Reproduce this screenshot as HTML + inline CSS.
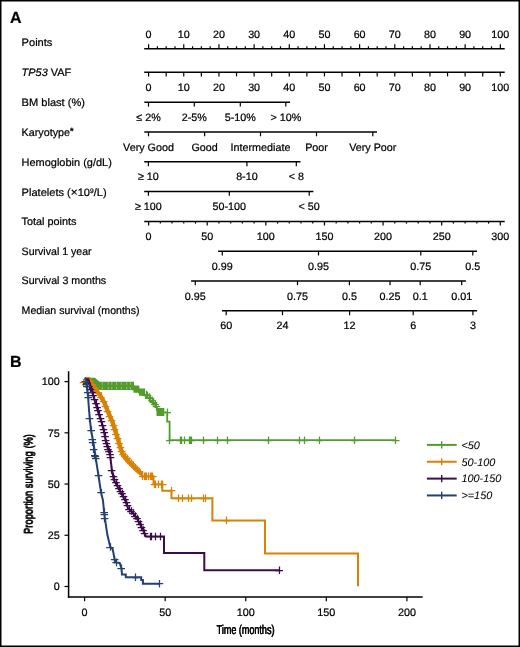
<!DOCTYPE html>
<html><head><meta charset="utf-8"><style>
html,body{margin:0;padding:0;background:#fff;}
svg{display:block;will-change:transform;}
text{font-family:"Liberation Sans",sans-serif;fill:#000;text-rendering:geometricPrecision;stroke:#000;stroke-width:0.22px;}
</style></head><body>
<svg width="520" height="647" viewBox="0 0 520 647">
<rect x="0.75" y="0.75" width="518.5" height="645.5" fill="none" stroke="#000" stroke-width="1.5"/>
<text x="10.00" y="23.40" text-anchor="start" font-size="16" font-weight="bold">A</text>
<text x="10.00" y="366.60" text-anchor="start" font-size="16" font-weight="bold">B</text>
<text x="21.60" y="45.80" text-anchor="start" font-size="10.75" textLength="30.8" lengthAdjust="spacingAndGlyphs">Points</text>
<text x="21.60" y="76.00" text-anchor="start" font-size="10.75" textLength="49.6" lengthAdjust="spacingAndGlyphs"><tspan font-style="italic">TP53</tspan> VAF</text>
<text x="21.60" y="105.90" text-anchor="start" font-size="10.75" textLength="63.4" lengthAdjust="spacingAndGlyphs">BM blast (%)</text>
<text x="21.60" y="136.00" text-anchor="start" font-size="10.75" >Karyotype<tspan font-size="9" font-weight="bold" dy="-1.8">*</tspan></text>
<text x="21.60" y="165.70" text-anchor="start" font-size="10.75" textLength="90.2" lengthAdjust="spacingAndGlyphs">Hemoglobin (g/dL)</text>
<text x="21.60" y="196.30" text-anchor="start" font-size="10.75" textLength="85.0" lengthAdjust="spacingAndGlyphs">Platelets (<tspan font-size="11.5">×</tspan>10<tspan font-size="6.5" dy="-3.8">9</tspan><tspan dy="3.8">/L)</tspan></text>
<text x="21.60" y="225.20" text-anchor="start" font-size="10.75" textLength="54.9" lengthAdjust="spacingAndGlyphs">Total points</text>
<text x="21.60" y="254.70" text-anchor="start" font-size="10.75" textLength="70.0" lengthAdjust="spacingAndGlyphs">Survival 1 year</text>
<text x="21.60" y="284.10" text-anchor="start" font-size="10.75" textLength="84.6" lengthAdjust="spacingAndGlyphs">Survival 3 months</text>
<text x="21.60" y="313.70" text-anchor="start" font-size="10.75" textLength="117.9" lengthAdjust="spacingAndGlyphs">Median survival (months)</text>
<line x1="144.20" y1="48.70" x2="504.70" y2="48.70" stroke="#000" stroke-width="1.5"/>
<line x1="148.60" y1="44.20" x2="148.60" y2="48.70" stroke="#000" stroke-width="1.2"/>
<text x="148.60" y="38.10" text-anchor="middle" font-size="10.75" >0</text>
<line x1="157.39" y1="46.30" x2="157.39" y2="48.70" stroke="#000" stroke-width="1.2"/>
<line x1="166.19" y1="46.30" x2="166.19" y2="48.70" stroke="#000" stroke-width="1.2"/>
<line x1="174.98" y1="46.30" x2="174.98" y2="48.70" stroke="#000" stroke-width="1.2"/>
<line x1="183.77" y1="44.20" x2="183.77" y2="48.70" stroke="#000" stroke-width="1.2"/>
<text x="183.77" y="38.10" text-anchor="middle" font-size="10.75" >10</text>
<line x1="192.56" y1="46.30" x2="192.56" y2="48.70" stroke="#000" stroke-width="1.2"/>
<line x1="201.35" y1="46.30" x2="201.35" y2="48.70" stroke="#000" stroke-width="1.2"/>
<line x1="210.15" y1="46.30" x2="210.15" y2="48.70" stroke="#000" stroke-width="1.2"/>
<line x1="218.94" y1="44.20" x2="218.94" y2="48.70" stroke="#000" stroke-width="1.2"/>
<text x="218.94" y="38.10" text-anchor="middle" font-size="10.75" >20</text>
<line x1="227.73" y1="46.30" x2="227.73" y2="48.70" stroke="#000" stroke-width="1.2"/>
<line x1="236.53" y1="46.30" x2="236.53" y2="48.70" stroke="#000" stroke-width="1.2"/>
<line x1="245.32" y1="46.30" x2="245.32" y2="48.70" stroke="#000" stroke-width="1.2"/>
<line x1="254.11" y1="44.20" x2="254.11" y2="48.70" stroke="#000" stroke-width="1.2"/>
<text x="254.11" y="38.10" text-anchor="middle" font-size="10.75" >30</text>
<line x1="262.90" y1="46.30" x2="262.90" y2="48.70" stroke="#000" stroke-width="1.2"/>
<line x1="271.69" y1="46.30" x2="271.69" y2="48.70" stroke="#000" stroke-width="1.2"/>
<line x1="280.49" y1="46.30" x2="280.49" y2="48.70" stroke="#000" stroke-width="1.2"/>
<line x1="289.28" y1="44.20" x2="289.28" y2="48.70" stroke="#000" stroke-width="1.2"/>
<text x="289.28" y="38.10" text-anchor="middle" font-size="10.75" >40</text>
<line x1="298.07" y1="46.30" x2="298.07" y2="48.70" stroke="#000" stroke-width="1.2"/>
<line x1="306.87" y1="46.30" x2="306.87" y2="48.70" stroke="#000" stroke-width="1.2"/>
<line x1="315.66" y1="46.30" x2="315.66" y2="48.70" stroke="#000" stroke-width="1.2"/>
<line x1="324.45" y1="44.20" x2="324.45" y2="48.70" stroke="#000" stroke-width="1.2"/>
<text x="324.45" y="38.10" text-anchor="middle" font-size="10.75" >50</text>
<line x1="333.24" y1="46.30" x2="333.24" y2="48.70" stroke="#000" stroke-width="1.2"/>
<line x1="342.04" y1="46.30" x2="342.04" y2="48.70" stroke="#000" stroke-width="1.2"/>
<line x1="350.83" y1="46.30" x2="350.83" y2="48.70" stroke="#000" stroke-width="1.2"/>
<line x1="359.62" y1="44.20" x2="359.62" y2="48.70" stroke="#000" stroke-width="1.2"/>
<text x="359.62" y="38.10" text-anchor="middle" font-size="10.75" >60</text>
<line x1="368.41" y1="46.30" x2="368.41" y2="48.70" stroke="#000" stroke-width="1.2"/>
<line x1="377.21" y1="46.30" x2="377.21" y2="48.70" stroke="#000" stroke-width="1.2"/>
<line x1="386.00" y1="46.30" x2="386.00" y2="48.70" stroke="#000" stroke-width="1.2"/>
<line x1="394.79" y1="44.20" x2="394.79" y2="48.70" stroke="#000" stroke-width="1.2"/>
<text x="394.79" y="38.10" text-anchor="middle" font-size="10.75" >70</text>
<line x1="403.58" y1="46.30" x2="403.58" y2="48.70" stroke="#000" stroke-width="1.2"/>
<line x1="412.38" y1="46.30" x2="412.38" y2="48.70" stroke="#000" stroke-width="1.2"/>
<line x1="421.17" y1="46.30" x2="421.17" y2="48.70" stroke="#000" stroke-width="1.2"/>
<line x1="429.96" y1="44.20" x2="429.96" y2="48.70" stroke="#000" stroke-width="1.2"/>
<text x="429.96" y="38.10" text-anchor="middle" font-size="10.75" >80</text>
<line x1="438.75" y1="46.30" x2="438.75" y2="48.70" stroke="#000" stroke-width="1.2"/>
<line x1="447.55" y1="46.30" x2="447.55" y2="48.70" stroke="#000" stroke-width="1.2"/>
<line x1="456.34" y1="46.30" x2="456.34" y2="48.70" stroke="#000" stroke-width="1.2"/>
<line x1="465.13" y1="44.20" x2="465.13" y2="48.70" stroke="#000" stroke-width="1.2"/>
<text x="465.13" y="38.10" text-anchor="middle" font-size="10.75" >90</text>
<line x1="473.92" y1="46.30" x2="473.92" y2="48.70" stroke="#000" stroke-width="1.2"/>
<line x1="482.72" y1="46.30" x2="482.72" y2="48.70" stroke="#000" stroke-width="1.2"/>
<line x1="491.51" y1="46.30" x2="491.51" y2="48.70" stroke="#000" stroke-width="1.2"/>
<line x1="500.30" y1="44.20" x2="500.30" y2="48.70" stroke="#000" stroke-width="1.2"/>
<text x="500.30" y="38.10" text-anchor="middle" font-size="10.75" >100</text>
<line x1="144.20" y1="72.30" x2="504.70" y2="72.30" stroke="#000" stroke-width="1.5"/>
<line x1="148.60" y1="72.30" x2="148.60" y2="76.40" stroke="#000" stroke-width="1.2"/>
<text x="148.60" y="90.60" text-anchor="middle" font-size="10.75" >0</text>
<line x1="166.19" y1="72.30" x2="166.19" y2="76.40" stroke="#000" stroke-width="1.2"/>
<line x1="183.77" y1="72.30" x2="183.77" y2="76.40" stroke="#000" stroke-width="1.2"/>
<text x="183.77" y="90.60" text-anchor="middle" font-size="10.75" >10</text>
<line x1="201.35" y1="72.30" x2="201.35" y2="76.40" stroke="#000" stroke-width="1.2"/>
<line x1="218.94" y1="72.30" x2="218.94" y2="76.40" stroke="#000" stroke-width="1.2"/>
<text x="218.94" y="90.60" text-anchor="middle" font-size="10.75" >20</text>
<line x1="236.53" y1="72.30" x2="236.53" y2="76.40" stroke="#000" stroke-width="1.2"/>
<line x1="254.11" y1="72.30" x2="254.11" y2="76.40" stroke="#000" stroke-width="1.2"/>
<text x="254.11" y="90.60" text-anchor="middle" font-size="10.75" >30</text>
<line x1="271.69" y1="72.30" x2="271.69" y2="76.40" stroke="#000" stroke-width="1.2"/>
<line x1="289.28" y1="72.30" x2="289.28" y2="76.40" stroke="#000" stroke-width="1.2"/>
<text x="289.28" y="90.60" text-anchor="middle" font-size="10.75" >40</text>
<line x1="306.87" y1="72.30" x2="306.87" y2="76.40" stroke="#000" stroke-width="1.2"/>
<line x1="324.45" y1="72.30" x2="324.45" y2="76.40" stroke="#000" stroke-width="1.2"/>
<text x="324.45" y="90.60" text-anchor="middle" font-size="10.75" >50</text>
<line x1="342.04" y1="72.30" x2="342.04" y2="76.40" stroke="#000" stroke-width="1.2"/>
<line x1="359.62" y1="72.30" x2="359.62" y2="76.40" stroke="#000" stroke-width="1.2"/>
<text x="359.62" y="90.60" text-anchor="middle" font-size="10.75" >60</text>
<line x1="377.21" y1="72.30" x2="377.21" y2="76.40" stroke="#000" stroke-width="1.2"/>
<line x1="394.79" y1="72.30" x2="394.79" y2="76.40" stroke="#000" stroke-width="1.2"/>
<text x="394.79" y="90.60" text-anchor="middle" font-size="10.75" >70</text>
<line x1="412.38" y1="72.30" x2="412.38" y2="76.40" stroke="#000" stroke-width="1.2"/>
<line x1="429.96" y1="72.30" x2="429.96" y2="76.40" stroke="#000" stroke-width="1.2"/>
<text x="429.96" y="90.60" text-anchor="middle" font-size="10.75" >80</text>
<line x1="447.55" y1="72.30" x2="447.55" y2="76.40" stroke="#000" stroke-width="1.2"/>
<line x1="465.13" y1="72.30" x2="465.13" y2="76.40" stroke="#000" stroke-width="1.2"/>
<text x="465.13" y="90.60" text-anchor="middle" font-size="10.75" >90</text>
<line x1="482.72" y1="72.30" x2="482.72" y2="76.40" stroke="#000" stroke-width="1.2"/>
<line x1="500.30" y1="72.30" x2="500.30" y2="76.40" stroke="#000" stroke-width="1.2"/>
<text x="500.30" y="90.60" text-anchor="middle" font-size="10.75" >100</text>
<line x1="144.30" y1="102.30" x2="290.00" y2="102.30" stroke="#000" stroke-width="1.5"/>
<line x1="148.50" y1="102.30" x2="148.50" y2="106.60" stroke="#000" stroke-width="1.2"/>
<text x="148.50" y="120.90" text-anchor="middle" font-size="10.75" >≤ 2%</text>
<line x1="194.30" y1="102.30" x2="194.30" y2="106.60" stroke="#000" stroke-width="1.2"/>
<text x="194.30" y="120.90" text-anchor="middle" font-size="10.75" >2-5%</text>
<line x1="240.30" y1="102.30" x2="240.30" y2="106.60" stroke="#000" stroke-width="1.2"/>
<text x="240.30" y="120.90" text-anchor="middle" font-size="10.75" >5-10%</text>
<line x1="285.80" y1="102.30" x2="285.80" y2="106.60" stroke="#000" stroke-width="1.2"/>
<text x="285.80" y="120.90" text-anchor="middle" font-size="10.75" >&gt; 10%</text>
<line x1="144.30" y1="132.00" x2="377.00" y2="132.00" stroke="#000" stroke-width="1.5"/>
<line x1="148.50" y1="132.00" x2="148.50" y2="136.30" stroke="#000" stroke-width="1.2"/>
<text x="148.50" y="150.60" text-anchor="middle" font-size="10.75" >Very Good</text>
<line x1="204.60" y1="132.00" x2="204.60" y2="136.30" stroke="#000" stroke-width="1.2"/>
<text x="204.60" y="150.60" text-anchor="middle" font-size="10.75" >Good</text>
<line x1="260.50" y1="132.00" x2="260.50" y2="136.30" stroke="#000" stroke-width="1.2"/>
<text x="260.50" y="150.60" text-anchor="middle" font-size="10.75" >Intermediate</text>
<line x1="316.50" y1="132.00" x2="316.50" y2="136.30" stroke="#000" stroke-width="1.2"/>
<text x="316.50" y="150.60" text-anchor="middle" font-size="10.75" >Poor</text>
<line x1="372.80" y1="132.00" x2="372.80" y2="136.30" stroke="#000" stroke-width="1.2"/>
<text x="372.80" y="150.60" text-anchor="middle" font-size="10.75" >Very Poor</text>
<line x1="144.20" y1="161.85" x2="300.50" y2="161.85" stroke="#000" stroke-width="1.5"/>
<line x1="148.40" y1="161.85" x2="148.40" y2="166.15" stroke="#000" stroke-width="1.2"/>
<text x="148.40" y="180.45" text-anchor="middle" font-size="10.75" >≥ 10</text>
<line x1="246.90" y1="161.85" x2="246.90" y2="166.15" stroke="#000" stroke-width="1.2"/>
<text x="246.90" y="180.45" text-anchor="middle" font-size="10.75" >8-10</text>
<line x1="296.30" y1="161.85" x2="296.30" y2="166.15" stroke="#000" stroke-width="1.2"/>
<text x="296.30" y="180.45" text-anchor="middle" font-size="10.75" >&lt; 8</text>
<line x1="144.20" y1="191.50" x2="313.40" y2="191.50" stroke="#000" stroke-width="1.5"/>
<line x1="148.40" y1="191.50" x2="148.40" y2="195.80" stroke="#000" stroke-width="1.2"/>
<text x="148.40" y="210.10" text-anchor="middle" font-size="10.75" >≥ 100</text>
<line x1="229.30" y1="191.50" x2="229.30" y2="195.80" stroke="#000" stroke-width="1.2"/>
<text x="229.30" y="210.10" text-anchor="middle" font-size="10.75" >50-100</text>
<line x1="309.20" y1="191.50" x2="309.20" y2="195.80" stroke="#000" stroke-width="1.2"/>
<text x="309.20" y="210.10" text-anchor="middle" font-size="10.75" >&lt; 50</text>
<line x1="144.20" y1="221.40" x2="504.70" y2="221.40" stroke="#000" stroke-width="1.5"/>
<line x1="148.60" y1="221.40" x2="148.60" y2="225.50" stroke="#000" stroke-width="1.2"/>
<text x="148.60" y="239.80" text-anchor="middle" font-size="10.75" >0</text>
<line x1="160.32" y1="221.40" x2="160.32" y2="223.60" stroke="#000" stroke-width="1.2"/>
<line x1="172.05" y1="221.40" x2="172.05" y2="223.60" stroke="#000" stroke-width="1.2"/>
<line x1="183.77" y1="221.40" x2="183.77" y2="223.60" stroke="#000" stroke-width="1.2"/>
<line x1="195.49" y1="221.40" x2="195.49" y2="223.60" stroke="#000" stroke-width="1.2"/>
<line x1="207.22" y1="221.40" x2="207.22" y2="225.50" stroke="#000" stroke-width="1.2"/>
<text x="207.22" y="239.80" text-anchor="middle" font-size="10.75" >50</text>
<line x1="218.94" y1="221.40" x2="218.94" y2="223.60" stroke="#000" stroke-width="1.2"/>
<line x1="230.66" y1="221.40" x2="230.66" y2="223.60" stroke="#000" stroke-width="1.2"/>
<line x1="242.39" y1="221.40" x2="242.39" y2="223.60" stroke="#000" stroke-width="1.2"/>
<line x1="254.11" y1="221.40" x2="254.11" y2="223.60" stroke="#000" stroke-width="1.2"/>
<line x1="265.83" y1="221.40" x2="265.83" y2="225.50" stroke="#000" stroke-width="1.2"/>
<text x="265.83" y="239.80" text-anchor="middle" font-size="10.75" >100</text>
<line x1="277.56" y1="221.40" x2="277.56" y2="223.60" stroke="#000" stroke-width="1.2"/>
<line x1="289.28" y1="221.40" x2="289.28" y2="223.60" stroke="#000" stroke-width="1.2"/>
<line x1="301.00" y1="221.40" x2="301.00" y2="223.60" stroke="#000" stroke-width="1.2"/>
<line x1="312.73" y1="221.40" x2="312.73" y2="223.60" stroke="#000" stroke-width="1.2"/>
<line x1="324.45" y1="221.40" x2="324.45" y2="225.50" stroke="#000" stroke-width="1.2"/>
<text x="324.45" y="239.80" text-anchor="middle" font-size="10.75" >150</text>
<line x1="336.17" y1="221.40" x2="336.17" y2="223.60" stroke="#000" stroke-width="1.2"/>
<line x1="347.90" y1="221.40" x2="347.90" y2="223.60" stroke="#000" stroke-width="1.2"/>
<line x1="359.62" y1="221.40" x2="359.62" y2="223.60" stroke="#000" stroke-width="1.2"/>
<line x1="371.34" y1="221.40" x2="371.34" y2="223.60" stroke="#000" stroke-width="1.2"/>
<line x1="383.07" y1="221.40" x2="383.07" y2="225.50" stroke="#000" stroke-width="1.2"/>
<text x="383.07" y="239.80" text-anchor="middle" font-size="10.75" >200</text>
<line x1="394.79" y1="221.40" x2="394.79" y2="223.60" stroke="#000" stroke-width="1.2"/>
<line x1="406.51" y1="221.40" x2="406.51" y2="223.60" stroke="#000" stroke-width="1.2"/>
<line x1="418.24" y1="221.40" x2="418.24" y2="223.60" stroke="#000" stroke-width="1.2"/>
<line x1="429.96" y1="221.40" x2="429.96" y2="223.60" stroke="#000" stroke-width="1.2"/>
<line x1="441.68" y1="221.40" x2="441.68" y2="225.50" stroke="#000" stroke-width="1.2"/>
<text x="441.68" y="239.80" text-anchor="middle" font-size="10.75" >250</text>
<line x1="453.41" y1="221.40" x2="453.41" y2="223.60" stroke="#000" stroke-width="1.2"/>
<line x1="465.13" y1="221.40" x2="465.13" y2="223.60" stroke="#000" stroke-width="1.2"/>
<line x1="476.85" y1="221.40" x2="476.85" y2="223.60" stroke="#000" stroke-width="1.2"/>
<line x1="488.58" y1="221.40" x2="488.58" y2="223.60" stroke="#000" stroke-width="1.2"/>
<line x1="500.30" y1="221.40" x2="500.30" y2="225.50" stroke="#000" stroke-width="1.2"/>
<text x="500.30" y="239.80" text-anchor="middle" font-size="10.75" >300</text>
<line x1="218.10" y1="251.15" x2="477.00" y2="251.15" stroke="#000" stroke-width="1.5"/>
<line x1="222.30" y1="251.15" x2="222.30" y2="255.45" stroke="#000" stroke-width="1.2"/>
<text x="222.30" y="269.75" text-anchor="middle" font-size="10.75" >0.99</text>
<line x1="318.50" y1="251.15" x2="318.50" y2="255.45" stroke="#000" stroke-width="1.2"/>
<text x="318.50" y="269.75" text-anchor="middle" font-size="10.75" >0.95</text>
<line x1="420.80" y1="251.15" x2="420.80" y2="255.45" stroke="#000" stroke-width="1.2"/>
<text x="420.80" y="269.75" text-anchor="middle" font-size="10.75" >0.75</text>
<line x1="472.80" y1="251.15" x2="472.80" y2="255.45" stroke="#000" stroke-width="1.2"/>
<text x="472.80" y="269.75" text-anchor="middle" font-size="10.75" >0.5</text>
<line x1="191.10" y1="280.90" x2="465.90" y2="280.90" stroke="#000" stroke-width="1.5"/>
<line x1="195.30" y1="280.90" x2="195.30" y2="285.20" stroke="#000" stroke-width="1.2"/>
<text x="195.30" y="299.50" text-anchor="middle" font-size="10.75" >0.95</text>
<line x1="297.50" y1="280.90" x2="297.50" y2="285.20" stroke="#000" stroke-width="1.2"/>
<text x="297.50" y="299.50" text-anchor="middle" font-size="10.75" >0.75</text>
<line x1="349.40" y1="280.90" x2="349.40" y2="285.20" stroke="#000" stroke-width="1.2"/>
<text x="349.40" y="299.50" text-anchor="middle" font-size="10.75" >0.5</text>
<line x1="390.00" y1="280.90" x2="390.00" y2="285.20" stroke="#000" stroke-width="1.2"/>
<text x="390.00" y="299.50" text-anchor="middle" font-size="10.75" >0.25</text>
<line x1="420.20" y1="280.90" x2="420.20" y2="285.20" stroke="#000" stroke-width="1.2"/>
<text x="420.20" y="299.50" text-anchor="middle" font-size="10.75" >0.1</text>
<line x1="461.70" y1="280.90" x2="461.70" y2="285.20" stroke="#000" stroke-width="1.2"/>
<text x="461.70" y="299.50" text-anchor="middle" font-size="10.75" >0.01</text>
<line x1="222.00" y1="310.85" x2="477.10" y2="310.85" stroke="#000" stroke-width="1.5"/>
<line x1="226.20" y1="310.85" x2="226.20" y2="315.15" stroke="#000" stroke-width="1.2"/>
<text x="226.20" y="329.45" text-anchor="middle" font-size="10.75" >60</text>
<line x1="282.50" y1="310.85" x2="282.50" y2="315.15" stroke="#000" stroke-width="1.2"/>
<text x="282.50" y="329.45" text-anchor="middle" font-size="10.75" >24</text>
<line x1="349.60" y1="310.85" x2="349.60" y2="315.15" stroke="#000" stroke-width="1.2"/>
<text x="349.60" y="329.45" text-anchor="middle" font-size="10.75" >12</text>
<line x1="413.20" y1="310.85" x2="413.20" y2="315.15" stroke="#000" stroke-width="1.2"/>
<text x="413.20" y="329.45" text-anchor="middle" font-size="10.75" >6</text>
<line x1="472.90" y1="310.85" x2="472.90" y2="315.15" stroke="#000" stroke-width="1.2"/>
<text x="472.90" y="329.45" text-anchor="middle" font-size="10.75" >3</text>
<line x1="68.60" y1="371.20" x2="68.60" y2="597.60" stroke="#000" stroke-width="1.5"/>
<line x1="67.85" y1="596.90" x2="422.70" y2="596.90" stroke="#000" stroke-width="1.5"/>
<line x1="64.50" y1="586.50" x2="68.60" y2="586.50" stroke="#000" stroke-width="1.2"/>
<text x="59.80" y="590.30" text-anchor="end" font-size="10.8" >0</text>
<line x1="64.50" y1="535.27" x2="68.60" y2="535.27" stroke="#000" stroke-width="1.2"/>
<text x="59.80" y="539.07" text-anchor="end" font-size="10.8" >25</text>
<line x1="64.50" y1="484.05" x2="68.60" y2="484.05" stroke="#000" stroke-width="1.2"/>
<text x="59.80" y="487.85" text-anchor="end" font-size="10.8" >50</text>
<line x1="64.50" y1="432.83" x2="68.60" y2="432.83" stroke="#000" stroke-width="1.2"/>
<text x="59.80" y="436.63" text-anchor="end" font-size="10.8" >75</text>
<line x1="64.50" y1="381.60" x2="68.60" y2="381.60" stroke="#000" stroke-width="1.2"/>
<text x="59.80" y="385.40" text-anchor="end" font-size="10.8" >100</text>
<line x1="84.60" y1="596.90" x2="84.60" y2="601.30" stroke="#000" stroke-width="1.2"/>
<text x="84.60" y="615.70" text-anchor="middle" font-size="10.8" >0</text>
<line x1="165.17" y1="596.90" x2="165.17" y2="601.30" stroke="#000" stroke-width="1.2"/>
<text x="165.17" y="615.70" text-anchor="middle" font-size="10.8" >50</text>
<line x1="245.75" y1="596.90" x2="245.75" y2="601.30" stroke="#000" stroke-width="1.2"/>
<text x="245.75" y="615.70" text-anchor="middle" font-size="10.8" >100</text>
<line x1="326.32" y1="596.90" x2="326.32" y2="601.30" stroke="#000" stroke-width="1.2"/>
<text x="326.32" y="615.70" text-anchor="middle" font-size="10.8" >150</text>
<line x1="406.90" y1="596.90" x2="406.90" y2="601.30" stroke="#000" stroke-width="1.2"/>
<text x="406.90" y="615.70" text-anchor="middle" font-size="10.8" >200</text>
<text x="-0.2" y="0" font-size="12.8" text-anchor="middle" transform="translate(245.6,633.8) scale(0.705,1)">Time (months)</text>
<text x="0.2" y="0" font-size="12.8" text-anchor="middle" transform="translate(245.6,633.8) scale(0.705,1)">Time (months)</text>
<text x="0" y="-0.2" font-size="12" text-anchor="middle" transform="translate(32.4,484) rotate(-90) scale(0.78,1)">Proportion surviving (%)</text>
<text x="0" y="0.2" font-size="12" text-anchor="middle" transform="translate(32.4,484) rotate(-90) scale(0.78,1)">Proportion surviving (%)</text>
<line x1="426.90" y1="444.90" x2="456.70" y2="444.90" stroke="#529c2e" stroke-width="2.0"/>
<line x1="441.70" y1="441.30" x2="441.70" y2="448.50" stroke="#529c2e" stroke-width="1.4"/>
<text x="461.40" y="448.70" text-anchor="start" font-size="10.9" font-style="italic" style="stroke-width:0.05px">&lt;50</text>
<line x1="426.90" y1="461.75" x2="456.70" y2="461.75" stroke="#d88205" stroke-width="2.0"/>
<line x1="441.70" y1="458.15" x2="441.70" y2="465.35" stroke="#d88205" stroke-width="1.4"/>
<text x="461.40" y="465.55" text-anchor="start" font-size="10.9" font-style="italic" style="stroke-width:0.05px">50-100</text>
<line x1="426.90" y1="478.60" x2="456.70" y2="478.60" stroke="#3c0b4b" stroke-width="2.0"/>
<line x1="441.70" y1="475.00" x2="441.70" y2="482.20" stroke="#3c0b4b" stroke-width="1.4"/>
<text x="461.40" y="482.40" text-anchor="start" font-size="10.9" font-style="italic" style="stroke-width:0.05px">100-150</text>
<line x1="426.90" y1="495.45" x2="456.70" y2="495.45" stroke="#234070" stroke-width="2.0"/>
<line x1="441.70" y1="491.85" x2="441.70" y2="499.05" stroke="#234070" stroke-width="1.4"/>
<text x="461.40" y="499.25" text-anchor="start" font-size="10.9" font-style="italic" style="stroke-width:0.05px">&gt;=150</text>
<polygon points="87.5,377.8 95,377.8 99.5,381.8 134,381.8 134,385.6 139.3,385.6 139.3,388.6 145.2,388.6 145.2,395.8 139,395.8 139,392.8 133.5,392.8 133.5,389.9 98.5,389.9 94,384.5 88,381" fill="#529c2e"/>
<path d="M102.3,382.2V384.8M102.3,386.6V389.4M108.3,382.2V384.8M108.3,386.6V389.4M111.8,382.2V384.8M111.8,386.6V389.4M116.5,382.2V384.8M116.5,386.6V389.4M121.4,382.2V384.8M121.4,386.6V389.4M126.8,382.2V384.8M126.8,386.6V389.4M130.5,382.2V384.8M130.5,386.6V389.4" stroke="#fff" stroke-opacity="0.45" stroke-width="0.8" fill="none"/>
<path d="M84.6,379.2 L93.5,379.2 L99.0,386.0 L133.5,386.0 L133.5,389.5 L139.0,389.5 L139.0,392.5 L143.0,392.5 L143.0,395.0 L146.0,395.0 L146.0,398.0 L150.0,398.0 L150.0,401.0 L153.0,401.0 L153.0,404.0 L155.5,404.0 L155.5,407.0 L157.0,407.0 L157.0,410.0 L160.0,410.0 L160.0,412.3 L167.2,412.3 L167.2,421.6 L169.6,421.6 L169.6,440.2 L395.8,440.2" fill="none" stroke="#529c2e" stroke-width="1.8" stroke-linejoin="miter"/>
<rect x="156.5" y="408" width="7.80" height="8.00" fill="#529c2e"/>
<path d="M142.2,394.5h7.6M146.5,390.7v7.6M143.7,395.5h7.6M147.5,391.7v7.6M145.2,397.5h7.6M149.5,393.2v7.6M146.7,398.5h7.6M150.5,394.7v7.6M148.2,400.5h7.6M152.5,396.8v7.6M149.7,402.5h7.6M153.5,398.2v7.6M151.2,404.5h7.6M155.5,400.2v7.6M152.7,406.5h7.6M156.5,402.7v7.6M163.4,412.5h7.6M167.5,408.5v7.6M166.1,440.5h7.6M169.5,436.4v7.6M176.3,440.5h7.6M180.5,436.4v7.6M177.8,440.5h7.6M181.5,436.4v7.6M180.7,440.5h7.6M184.5,436.4v7.6M185.4,440.5h7.6M189.5,436.4v7.6M186.3,440.5h7.6M190.5,436.4v7.6M187.8,440.5h7.6M191.5,436.4v7.6M200.0,440.5h7.6M203.5,436.4v7.6M214.1,440.5h7.6M217.5,436.4v7.6M223.8,440.5h7.6M227.5,436.4v7.6M264.4,440.5h7.6M268.5,436.4v7.6M295.4,440.5h7.6M299.5,436.4v7.6M300.4,440.5h7.6M304.5,436.4v7.6M315.4,440.5h7.6M319.5,436.4v7.6M350.7,440.5h7.6M354.5,436.4v7.6M391.9,440.5h7.6M395.5,436.4v7.6" fill="none" stroke="#529c2e" stroke-width="1.25"/>
<path d="M84.6,379.2 L88.8,379.2 L92.0,385.0 L96.0,390.5 L99.9,395.0 L104.5,403.0 L108.5,413.0 L112.5,422.0 L116.0,433.0 L118.2,440.0 L120.5,448.0 L123.0,455.0 L127.0,460.0 L132.0,465.0 L137.0,470.0 L141.8,474.0" fill="none" stroke="#d88205" stroke-width="4.4" stroke-linejoin="miter"/>
<path d="M141.8,474.0 L141.8,476.2 L153.5,476.2 L153.5,484.3 L162.3,484.3 L162.3,490.8 L171.5,490.8 L171.5,498.2 L212.4,498.2 L212.4,520.4 L265.0,520.4 L265.0,553.4 L358.0,553.4 L358.0,586.2" fill="none" stroke="#d88205" stroke-width="2.0" stroke-linejoin="miter"/>
<path d="M79.7,382.5h7.6M83.5,378.8v7.6M88.2,384.5h7.6M92.5,380.2v7.6M91.2,388.5h7.6M95.5,384.2v7.6M94.2,392.5h7.6M98.5,388.7v7.6M97.2,397.5h7.6M101.5,393.2v7.6M99.7,401.5h7.6M103.5,397.2v7.6M101.7,406.5h7.6M105.5,402.2v7.6M103.7,411.5h7.6M107.5,407.2v7.6M105.7,416.5h7.6M109.5,412.2v7.6M107.7,420.5h7.6M111.5,416.2v7.6M109.7,425.5h7.6M113.5,421.2v7.6M110.7,429.5h7.6M114.5,425.2v7.6M112.2,434.5h7.6M116.5,430.2v7.6M113.7,438.5h7.6M117.5,434.7v7.6M115.2,443.5h7.6M119.5,439.2v7.6M116.7,447.5h7.6M120.5,443.2v7.6M117.7,451.5h7.6M121.5,447.2v7.6M119.2,454.5h7.6M123.5,450.2v7.6M121.2,456.5h7.6M125.5,452.7v7.6M123.2,458.5h7.6M127.5,454.7v7.6M125.2,461.5h7.6M129.5,457.2v7.6M127.2,463.5h7.6M131.5,459.2v7.6M129.2,465.5h7.6M133.5,461.2v7.6M131.2,467.5h7.6M135.5,463.7v7.6M133.2,469.5h7.6M137.5,465.7v7.6M135.7,471.5h7.6M139.5,467.7v7.6M138.9,476.5h7.6M142.5,472.4v7.6M140.4,476.5h7.6M144.5,472.4v7.6M141.6,476.5h7.6M145.5,472.4v7.6M142.7,476.5h7.6M146.5,472.4v7.6M144.7,476.5h7.6M148.5,472.4v7.6M146.6,476.5h7.6M150.5,472.4v7.6M147.7,476.5h7.6M151.5,472.4v7.6M148.9,476.5h7.6M152.5,472.4v7.6M150.8,484.5h7.6M154.5,480.5v7.6M152.0,484.5h7.6M155.5,480.5v7.6M154.3,484.5h7.6M158.5,480.5v7.6M157.7,484.5h7.6M161.5,480.5v7.6M158.9,484.5h7.6M162.5,480.5v7.6M167.7,490.5h7.6M171.5,487.0v7.6M174.7,498.5h7.6M178.5,494.4v7.6M178.5,498.5h7.6M182.5,494.4v7.6M184.7,498.5h7.6M188.5,494.4v7.6M187.4,498.5h7.6M191.5,494.4v7.6M200.0,498.5h7.6M203.5,494.4v7.6M202.0,498.5h7.6M205.5,494.4v7.6M222.4,520.5h7.6M226.5,516.6v7.6" fill="none" stroke="#d88205" stroke-width="1.25"/>
<path d="M84.6,379.2 L88.3,379.2 L90.0,384.0 L93.1,395.0 L98.7,413.6 L103.3,427.5 L105.6,440.0 L108.0,449.0 L110.1,455.0 L111.9,470.0 L113.8,480.0 L116.6,485.0 L119.3,490.0 L122.1,495.0 L124.9,500.0 L128.0,508.0 L132.0,512.0 L136.2,517.3 L139.0,522.0 L142.5,528.8 L146.0,536.5 L164.0,536.5 L164.0,552.9 L204.3,552.9 L204.3,570.3 L279.2,570.3" fill="none" stroke="#3c0b4b" stroke-width="2.0" stroke-linejoin="miter"/>
<path d="M83.2,383.5h7.6M87.5,379.2v7.6M85.2,386.5h7.6M89.5,382.2v7.6M86.7,389.5h7.6M90.5,385.2v7.6M88.2,392.5h7.6M92.5,388.2v7.6M89.2,395.5h7.6M93.5,391.2v7.6M90.7,399.5h7.6M94.5,395.2v7.6M92.2,403.5h7.6M96.5,399.2v7.6M93.2,407.5h7.6M97.5,403.2v7.6M94.2,410.5h7.6M98.5,406.7v7.6M95.2,414.5h7.6M99.5,410.2v7.6M96.7,418.5h7.6M100.5,414.2v7.6M97.7,421.5h7.6M101.5,417.7v7.6M98.7,425.5h7.6M102.5,421.2v7.6M99.7,429.5h7.6M103.5,425.2v7.6M100.5,432.5h7.6M104.5,428.7v7.6M101.2,436.5h7.6M105.5,432.2v7.6M101.8,440.5h7.6M105.5,436.2v7.6M102.7,443.5h7.6M106.5,439.2v7.6M103.5,446.5h7.6M107.5,442.2v7.6M104.2,449.5h7.6M108.5,445.2v7.6M105.2,451.5h7.6M109.5,447.7v7.6M106.2,454.5h7.6M110.5,450.2v7.6M106.7,457.5h7.6M110.5,453.7v7.6M107.8,470.5h7.6M111.5,466.2v7.6M109.7,476.5h7.6M113.5,472.8v7.6M110.7,479.5h7.6M114.5,475.2v7.6M112.2,482.5h7.6M116.5,478.7v7.6M113.7,485.5h7.6M117.5,481.7v7.6M115.2,488.5h7.6M119.5,484.7v7.6M116.7,491.5h7.6M120.5,487.2v7.6M118.2,493.5h7.6M122.5,489.7v7.6M119.7,496.5h7.6M123.5,492.7v7.6M121.2,499.5h7.6M125.5,495.7v7.6M122.7,502.5h7.6M126.5,498.7v7.6M123.7,505.5h7.6M127.5,501.7v7.6M125.2,509.5h7.6M129.5,505.2v7.6M127.2,511.5h7.6M131.5,507.2v7.6M129.2,513.5h7.6M133.5,509.2v7.6M131.2,516.5h7.6M135.5,512.2v7.6M133.2,518.5h7.6M137.5,514.7v7.6M134.7,521.5h7.6M138.5,517.2v7.6M136.2,524.5h7.6M140.5,520.2v7.6M137.7,527.5h7.6M141.5,523.2v7.6M139.2,530.5h7.6M143.5,526.2v7.6M140.7,533.5h7.6M144.5,529.2v7.6M146.2,536.5h7.6M150.5,532.7v7.6M147.6,536.5h7.6M151.5,532.7v7.6M151.8,536.5h7.6M155.5,532.7v7.6M156.3,536.5h7.6M160.5,532.7v7.6M275.4,570.5h7.6M279.5,566.5v7.6" fill="none" stroke="#3c0b4b" stroke-width="1.25"/>
<path d="M84.6,379.2 L85.8,379.2 L86.5,385.0 L88.0,395.0 L89.0,410.0 L91.0,430.0 L93.8,445.0 L95.5,456.5 L98.5,475.6 L101.1,492.9 L102.9,500.0 L104.4,515.0 L107.3,534.6 L110.2,546.7 L112.7,549.3 L114.7,559.7 L116.2,562.4 L119.7,563.0 L121.5,568.2 L122.0,574.6 L125.8,574.6 L125.8,577.2 L141.2,577.2 L141.2,579.9 L142.9,579.9 L142.9,583.8 L159.4,583.8" fill="none" stroke="#234070" stroke-width="2.0" stroke-linejoin="miter"/>
<path d="M81.5,381.5h7.6M85.5,377.5v7.6M82.4,384.5h7.6M86.5,380.4v7.6M83.2,386.5h7.6M87.5,383.1v7.6M84.0,392.5h7.6M87.5,388.7v7.6M84.5,397.5h7.6M88.5,393.2v7.6M85.7,418.5h7.6M89.5,415.0v7.6M87.4,430.5h7.6M91.5,426.4v7.6M88.5,439.5h7.6M92.5,435.8v7.6M88.8,442.5h7.6M92.5,438.5v7.6M89.8,449.5h7.6M93.5,445.4v7.6M91.0,455.5h7.6M94.5,451.2v7.6M91.5,456.5h7.6M95.5,452.7v7.6M92.0,458.5h7.6M95.5,454.2v7.6M94.7,475.5h7.6M98.5,471.8v7.6M97.3,492.5h7.6M101.5,489.1v7.6M100.4,512.5h7.6M104.5,508.3v7.6M100.5,514.5h7.6M104.5,510.6v7.6M100.8,518.5h7.6M104.5,514.7v7.6M106.2,547.5h7.6M110.5,543.2v7.6M110.9,559.5h7.6M114.5,555.9v7.6M112.4,562.5h7.6M116.5,558.6v7.6M117.4,568.5h7.6M121.5,564.4v7.6M132.1,577.5h7.6M135.5,573.4v7.6M155.6,583.5h7.6M159.5,580.0v7.6" fill="none" stroke="#234070" stroke-width="1.25"/>
</svg>
</body></html>
